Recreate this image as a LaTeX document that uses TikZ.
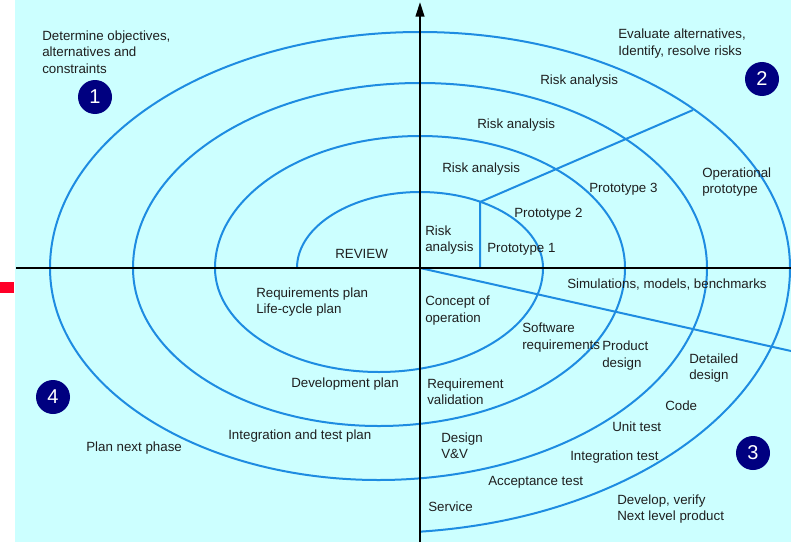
\documentclass[tikz,border=0pt]{standalone}
\usepackage{fontspec}
\setmainfont{Liberation Sans}
\usetikzlibrary{arrows.meta}
\definecolor{bgcyan}{RGB}{204,255,255}
\definecolor{spiralblue}{RGB}{30,140,225}
\definecolor{phasenavy}{RGB}{0,0,128}
\definecolor{marker}{RGB}{255,0,40}
\begin{document}
\begin{tikzpicture}[x=0.75pt,y=-0.75pt,
  spiral/.style={spiralblue, line width=1.5pt, line join=round},
  axisline/.style={black, line width=1.5pt},
  lbl/.style={anchor=west, inner sep=0pt, align=left, text=black!88,
    yshift=-1.5pt, font=\fontsize{10}{12.3}\selectfont},
  phase/.style={circle, fill=phasenavy, text=white, inner sep=0pt,
    minimum size=25.5pt, font=\fontsize{15}{15}\selectfont}]
\useasboundingbox (0,0) rectangle (791,542);
\fill[white] (0,0) rectangle (791,542);
\fill[bgcyan] (15,0) rectangle (791,542);
\fill[marker] (0,282) rectangle (14,293);

% key points
\coordinate (O) at (420,268);
\coordinate (S) at (297,268);
\coordinate (P) at (480,202);
\coordinate (Pb) at (480,268);
\coordinate (Q) at (693,110);
\coordinate (R) at (791,351);
\coordinate (W) at (16,268);
\coordinate (E) at (791,268);
\coordinate (B) at (420,542);
\coordinate (T) at (420,2);

% the spiral: upper halves centred on the origin, lower halves shifted left
\draw[spiral] (S)
  arc[start angle=180,end angle=360,x radius=123,y radius=76]
  arc[start angle=0,end angle=180,x radius=164,y radius=104]
  arc[start angle=180,end angle=360,x radius=205,y radius=132]
  arc[start angle=0,end angle=180,x radius=246,y radius=158]
  arc[start angle=180,end angle=360,x radius=287,y radius=185]
  arc[start angle=0,end angle=180,x radius=328.5,y radius=212]
  arc[start angle=180,end angle=360,x radius=370,y radius=236]
  arc[start angle=0,end angle=84.3,x radius=411,y radius=265];

% prototype divider and development divider
\draw[spiral] (Pb) -- (P) -- (Q);
\draw[spiral] (O) -- (R);

% axes
\draw[axisline] (W) -- (E);
\draw[axisline, -{Triangle[length=11pt,width=6.5pt]}] (B) -- (T);

% quadrant markers
\node[phase] (c1) at (95,97) {1};
\node[phase] (c2) at (762,79) {2};
\node[phase] (c3) at (753,453) {3};
\node[phase] (c4) at (53,397) {4};

% quadrant titles
\node[lbl] (q1) at (42,50) {Determine objectives,\\alternatives and\\constraints};
\node[lbl] (q2) at (618,41.5) {Evaluate alternatives,\\Identify, resolve risks};
\node[lbl] (q3) at (617,507) {Develop, verify\\Next level product};
\node[lbl] (q4) at (86,446) {Plan next phase};

% risk analysis / prototypes
\node[lbl] (ra4) at (540,79) {Risk analysis};
\node[lbl] (ra3) at (477,123) {Risk analysis};
\node[lbl] (ra2) at (442,167) {Risk analysis};
\node[lbl] (ra1) at (425,238) {Risk\\analysis};
\node[lbl] (pt1) at (487,247) {Prototype 1};
\node[lbl] (pt2) at (514,212) {Prototype 2};
\node[lbl] (pt3) at (589,187) {Prototype 3};
\node[lbl] (opt) at (702,180) {Operational\\prototype};
\node[lbl] (rev) at (335,252) {REVIEW};

% development quadrant
\node[lbl] (sim) at (567,283) {Simulations, models, benchmarks};
\node[lbl] (cop) at (425,308.5) {Concept of\\operation};
\node[lbl] (swr) at (522,335.5) {Software\\requirements};
\node[lbl] (pd) at (602,353.5) {Product\\design};
\node[lbl] (dd) at (689,366) {Detailed\\design};
\node[lbl] (code) at (665,404) {Code};
\node[lbl] (ut) at (612,425) {Unit test};
\node[lbl] (it) at (570,455) {Integration test};
\node[lbl] (rv) at (427,389.5) {Requirement\\validation};
\node[lbl] (dvv) at (441,444) {Design\\V\&V};
\node[lbl] (at) at (488,480) {Acceptance test};
\node[lbl] (svc) at (428,505) {Service};

% planning quadrant
\node[lbl] (rp) at (256,300) {Requirements plan\\Life-cycle plan};
\node[lbl] (dp) at (291,382) {Development plan};
\node[lbl] (itp) at (228,434) {Integration and test plan};
\end{tikzpicture}
\end{document}
